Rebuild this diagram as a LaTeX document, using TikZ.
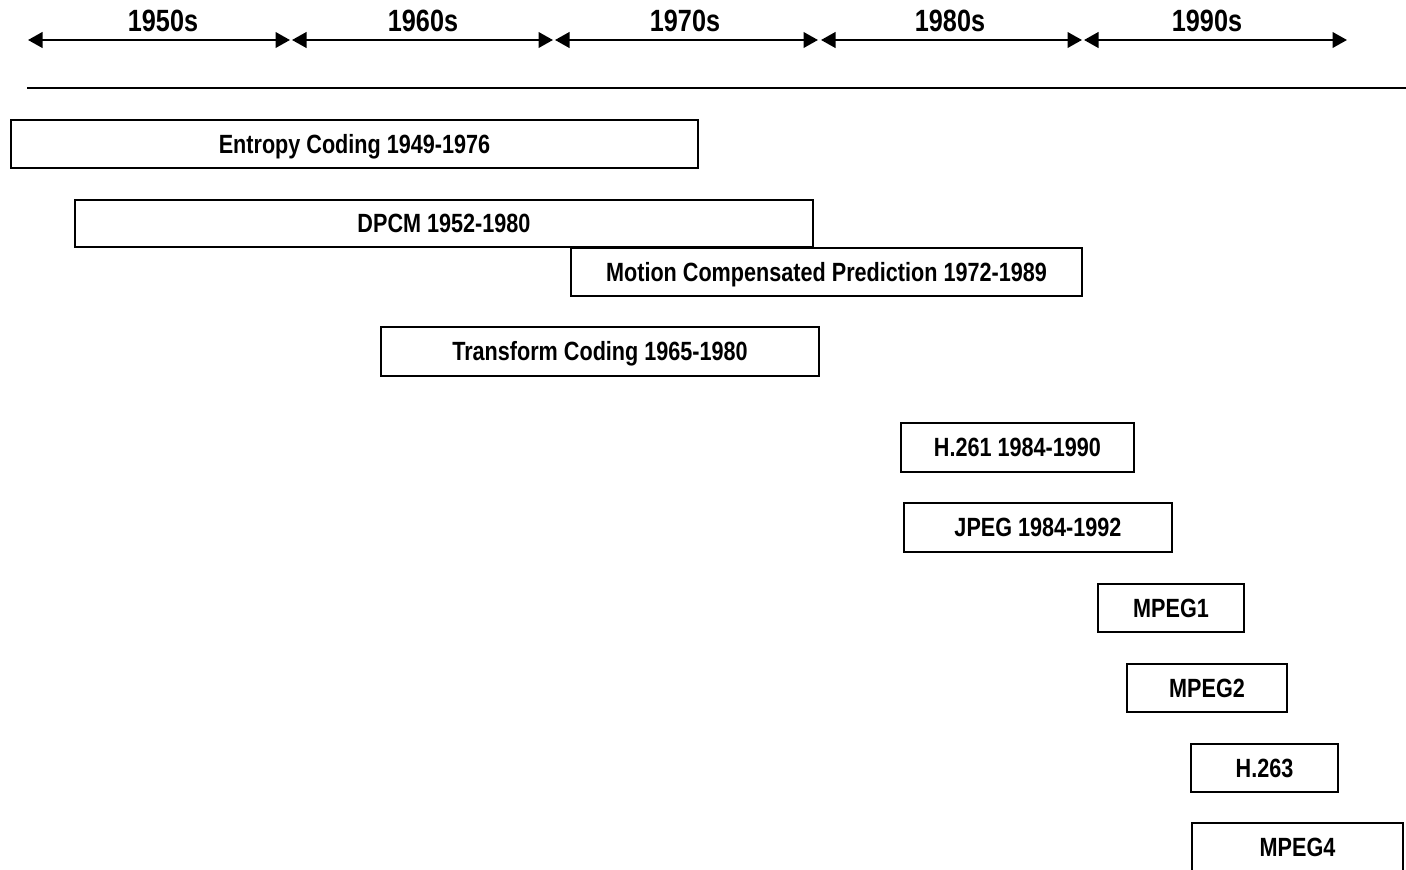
\documentclass[tikz,border=0pt]{standalone}
\usepackage{fontspec}
\setmainfont{Liberation Sans}[FakeStretch=0.82]
\usetikzlibrary{arrows.meta}

\tikzset{
  decade/.style={line width=1.4pt, {Triangle[length=0.29cm, width=0.31cm]}-{Triangle[length=0.29cm, width=0.31cm]}},
  yearlabel/.style={anchor=base, inner sep=0pt, font=\fontsize{17.5}{20}\selectfont\bfseries},
  period/.style={draw, rectangle, line width=1.4pt, inner sep=0pt, text height=10.7pt, text depth=0pt,
    font=\fontsize{15}{18}\selectfont\bfseries}
}

\begin{document}
\begin{tikzpicture}
\useasboundingbox (0,0) rectangle (28.12,-17.38);
\clip (0,0) rectangle (28.12,-17.38);

% Decades along the top
\foreach \d/\a/\b/\lx in {1950s/0.56/5.80/3.26, 1960s/5.84/11.06/8.46, 1970s/11.10/16.36/13.70,
                          1980s/16.42/21.64/19.00, 1990s/21.68/26.94/24.14} {
  \coordinate (\d-l) at (\a,-0.8);
  \coordinate (\d-r) at (\b,-0.8);
  \draw[decade] (\d-l) -- (\d-r);
  \node[yearlabel] (lab-\d) at (\lx,-0.64) {\d};
}

% Rule under the decades
\coordinate (rule-l) at (0.54,-1.76);
\coordinate (rule-r) at (28.12,-1.76);
\draw[line width=1.4pt] (rule-l) -- (rule-r);

% Techniques
\node[period, minimum width=13.74cm, minimum height=0.96cm] (entropy) at (7.09,-2.88) {Entropy Coding 1949-1976};
\node[period, minimum width=14.76cm, minimum height=0.94cm] (dpcm) at (8.88,-4.47) {DPCM 1952-1980};
\node[period, minimum width=10.22cm, minimum height=0.96cm] (motion) at (16.53,-5.44) {Motion Compensated Prediction 1972-1989};
\node[period, minimum width=8.76cm, minimum height=0.98cm] (transform) at (12.00,-7.03) {Transform Coding 1965-1980};

% Standards
\node[period, minimum width=4.66cm, minimum height=0.98cm] (h261) at (20.35,-8.95) {H.261 1984-1990};
\node[period, minimum width=5.36cm, minimum height=0.98cm] (jpeg) at (20.76,-10.55) {JPEG 1984-1992};
\node[period, minimum width=2.92cm, minimum height=0.96cm] (mpeg1) at (23.42,-12.16) {MPEG1};
\node[period, minimum width=3.20cm, minimum height=0.96cm] (mpeg2) at (24.14,-13.76) {MPEG2};
\node[period, minimum width=2.94cm, minimum height=0.96cm] (h263) at (25.29,-15.36) {H.263};
\node[period, minimum width=4.22cm, minimum height=0.96cm] (mpeg4) at (25.95,-16.94) {MPEG4};

\end{tikzpicture}
\end{document}
